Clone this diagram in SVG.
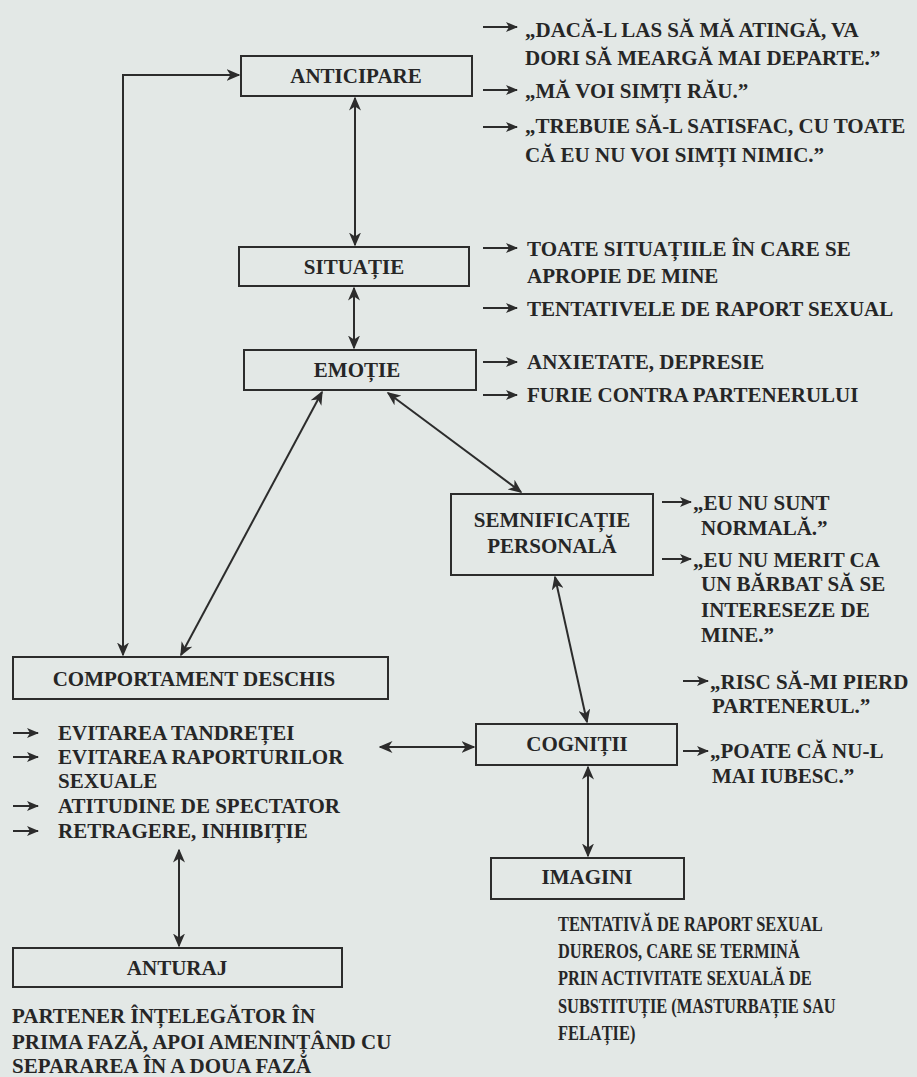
<svg xmlns="http://www.w3.org/2000/svg" width="917" height="1077" viewBox="0 0 917 1077">
  <style>
    .box { fill: none; stroke: #2c2c2c; stroke-width: 2; }
    .lbl { font-family: "Liberation Serif", "Times New Roman", serif; font-size: 21px; font-weight: bold; fill: #262626; }
    .mid { text-anchor: middle; }
    .con { fill: none; stroke: #2c2c2c; stroke-width: 2; }
    .dbl { marker-start: url(#ah); marker-end: url(#ah); }
    .one { marker-end: url(#sh); }
  </style>
  <defs>
    <!-- barbed arrowhead for the links between boxes -->
    <marker id="ah" viewBox="0 0 14 12" refX="12.5" refY="6" markerWidth="14" markerHeight="12" markerUnits="userSpaceOnUse" orient="auto-start-reverse">
      <path d="M0,0 L14,6 L0,12 L4,6 z" fill="#2c2c2c"/>
    </marker>
    <!-- smaller head for the pointers to the item lists -->
    <marker id="sh" viewBox="0 0 12 10" refX="11" refY="5" markerWidth="12" markerHeight="10" markerUnits="userSpaceOnUse" orient="auto">
      <path d="M0,0 L12,5 L0,10 L3,5 z" fill="#2c2c2c"/>
    </marker>
  </defs>

  <rect width="917" height="1077" fill="#e3e8e6"/>

  <!-- connectors -->
  <g id="connectors">
    <path class="con dbl" d="M123,655 V75 H239"/>
    <path class="con dbl" d="M355,98 V245"/>
    <path class="con dbl" d="M354,288 V348"/>
    <path class="con dbl" d="M181,655 L322,392"/>
    <path class="con dbl" d="M388,393 L521,492"/>
    <path class="con dbl" d="M555,577 L587,722"/>
    <path class="con dbl" d="M380,747 H474"/>
    <path class="con dbl" d="M588,767 V856"/>
    <path class="con dbl" d="M179,850 V946"/>
    <!-- short pointers to the item lists -->
    <path class="con one" d="M483,27 H517"/>
    <path class="con one" d="M483,90 H517"/>
    <path class="con one" d="M483,127 H517"/>
    <path class="con one" d="M483,248 H517"/>
    <path class="con one" d="M483,308 H517"/>
    <path class="con one" d="M483,362 H517"/>
    <path class="con one" d="M483,395 H517"/>
    <path class="con one" d="M662,502 H691"/>
    <path class="con one" d="M662,559 H691"/>
    <path class="con one" d="M683,681 H708"/>
    <path class="con one" d="M683,751 H708"/>
    <path class="con one" d="M13,733 H38"/>
    <path class="con one" d="M13,757 H38"/>
    <path class="con one" d="M13,806 H38"/>
    <path class="con one" d="M13,831 H38"/>
  </g>

  <g id="anticipare">
    <rect class="box" x="241" y="56" width="231" height="40"/>
    <text class="lbl mid" x="356" y="83">ANTICIPARE</text>
  </g>
  <g id="anticipare-items">
    <text class="lbl" x="525" y="37">„DACĂ-L LAS SĂ MĂ ATINGĂ, VA</text>
    <text class="lbl" x="525" y="65">DORI SĂ MEARGĂ MAI DEPARTE.”</text>
    <text class="lbl" x="525" y="98">„MĂ VOI SIMȚI RĂU.”</text>
    <text class="lbl" x="525" y="133">„TREBUIE SĂ-L SATISFAC, CU TOATE</text>
    <text class="lbl" x="525" y="162">CĂ EU NU VOI SIMȚI NIMIC.”</text>
  </g>

  <g id="situatie">
    <rect class="box" x="239" y="247" width="230" height="39"/>
    <text class="lbl mid" x="354" y="274">SITUAȚIE</text>
  </g>
  <g id="situatie-items">
    <text class="lbl" x="527" y="256">TOATE SITUAȚIILE ÎN CARE SE</text>
    <text class="lbl" x="527" y="283">APROPIE DE MINE</text>
    <text class="lbl" x="527" y="316">TENTATIVELE DE RAPORT SEXUAL</text>
  </g>

  <g id="emotie">
    <rect class="box" x="244" y="350" width="232" height="40"/>
    <text class="lbl mid" x="357" y="377">EMOȚIE</text>
  </g>
  <g id="emotie-items">
    <text class="lbl" x="527" y="369">ANXIETATE, DEPRESIE</text>
    <text class="lbl" x="527" y="402">FURIE CONTRA PARTENERULUI</text>
  </g>

  <g id="semnificatie">
    <rect class="box" x="451" y="494" width="202" height="81"/>
    <text class="lbl mid" x="552" y="527">SEMNIFICAȚIE</text>
    <text class="lbl mid" x="552" y="553">PERSONALĂ</text>
  </g>
  <g id="semnificatie-items">
    <text class="lbl" x="693" y="510">„EU NU SUNT</text>
    <text class="lbl" x="701" y="535">NORMALĂ.”</text>
    <text class="lbl" x="693" y="567">„EU NU MERIT CA</text>
    <text class="lbl" x="701" y="591">UN BĂRBAT SĂ SE</text>
    <text class="lbl" x="701" y="617">INTERESEZE DE</text>
    <text class="lbl" x="701" y="642">MINE.”</text>
  </g>

  <g id="comportament">
    <rect class="box" x="13" y="657" width="375" height="42"/>
    <text class="lbl mid" x="194" y="686">COMPORTAMENT DESCHIS</text>
  </g>
  <g id="comportament-items">
    <text class="lbl" x="58" y="740">EVITAREA TANDREȚEI</text>
    <text class="lbl" x="58" y="764">EVITAREA RAPORTURILOR</text>
    <text class="lbl" x="58" y="788">SEXUALE</text>
    <text class="lbl" x="58" y="813">ATITUDINE DE SPECTATOR</text>
    <text class="lbl" x="58" y="838">RETRAGERE, INHIBIȚIE</text>
  </g>

  <g id="cognitii">
    <rect class="box" x="476" y="724" width="201" height="41"/>
    <text class="lbl mid" x="577" y="751">COGNIȚII</text>
  </g>
  <g id="cognitii-items">
    <text class="lbl" x="710" y="689">„RISC SĂ-MI PIERD</text>
    <text class="lbl" x="712" y="713">PARTENERUL.”</text>
    <text class="lbl" x="710" y="758">„POATE CĂ NU-L</text>
    <text class="lbl" x="712" y="783">MAI IUBESC.”</text>
  </g>

  <g id="imagini">
    <rect class="box" x="491" y="858" width="193" height="41"/>
    <text class="lbl mid" x="587" y="884">IMAGINI</text>
  </g>
  <!-- the description under IMAGINI is set narrower than the other lists -->
  <g id="imagini-items" transform="translate(558,0) scale(0.78,1)">
    <text class="lbl" x="0" y="931">TENTATIVĂ DE RAPORT SEXUAL</text>
    <text class="lbl" x="0" y="958">DUREROS, CARE SE TERMINĂ</text>
    <text class="lbl" x="0" y="985">PRIN ACTIVITATE SEXUALĂ DE</text>
    <text class="lbl" x="0" y="1013">SUBSTITUȚIE (MASTURBAȚIE SAU</text>
    <text class="lbl" x="0" y="1040">FELAȚIE)</text>
  </g>

  <g id="anturaj">
    <rect class="box" x="13" y="948" width="329" height="39"/>
    <text class="lbl mid" x="177" y="975">ANTURAJ</text>
  </g>
  <g id="anturaj-items">
    <text class="lbl" x="12" y="1023">PARTENER ÎNȚELEGĂTOR ÎN</text>
    <text class="lbl" x="12" y="1049">PRIMA FAZĂ, APOI AMENINȚÂND CU</text>
    <text class="lbl" x="12" y="1073">SEPARAREA ÎN A DOUA FAZĂ</text>
  </g>
</svg>
